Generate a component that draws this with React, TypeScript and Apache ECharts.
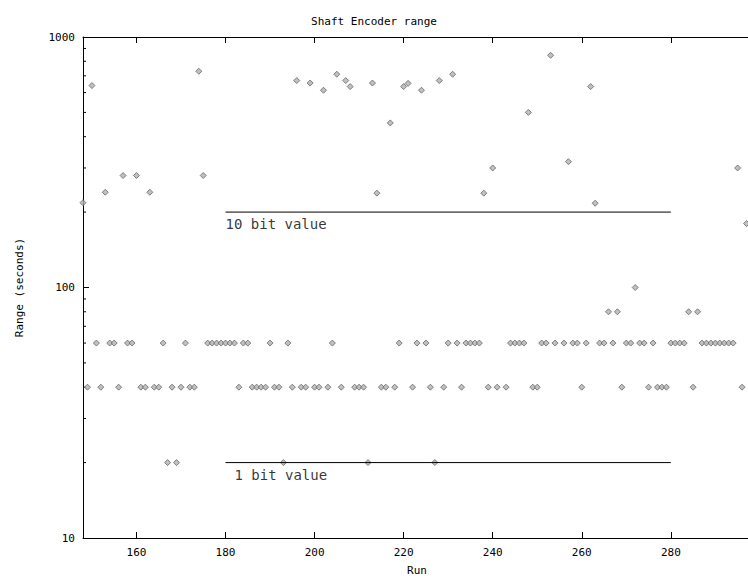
import React, { useEffect, useRef } from "react";
import * as echarts from "echarts";

// Run numbers and measured shaft encoder range (seconds)
const runs = [
  148, 149, 150, 151, 152, 153, 154, 155, 156, 157, 158, 159, 160, 161, 162, 163, 164, 165, 166, 167,
  168, 169, 170, 171, 172, 173, 174, 175, 176, 177, 178, 179, 180, 181, 182, 183, 184, 185, 186, 187,
  188, 189, 190, 191, 192, 193, 194, 195, 196, 197, 198, 199, 200, 201, 202, 203, 204, 205, 206, 207,
  208, 209, 210, 211, 212, 213, 214, 215, 216, 217, 218, 219, 220, 221, 222, 223, 224, 225, 226, 227,
  228, 229, 230, 231, 232, 233, 234, 235, 236, 237, 238, 239, 240, 241, 243, 244, 245, 246, 247, 248,
  249, 250, 251, 252, 253, 254, 256, 257, 258, 259, 260, 261, 262, 263, 264, 265, 266, 267, 268, 269,
  270, 271, 272, 273, 274, 275, 276, 277, 278, 279, 280, 281, 282, 283, 284, 285, 286, 287, 288, 289,
  290, 291, 292, 293, 294, 295, 296, 297,
];
const rangeSeconds = [
  218, 40, 640, 60, 40, 240, 60, 60, 40, 280, 60, 60, 280, 40, 40, 240, 40, 40, 60, 20,
  40, 20, 40, 60, 40, 40, 730, 280, 60, 60, 60, 60, 60, 60, 60, 40, 60, 60, 40, 40,
  40, 40, 60, 40, 40, 20, 60, 40, 670, 40, 40, 655, 40, 40, 613, 40, 60, 710, 40, 670,
  634, 40, 40, 40, 20, 655, 238, 40, 40, 454, 40, 60, 634, 653, 40, 60, 613, 60, 40, 20,
  670, 40, 60, 710, 60, 40, 60, 60, 60, 60, 238, 40, 300, 40, 40, 60, 60, 60, 60, 500,
  40, 40, 60, 60, 845, 60, 60, 318, 60, 60, 40, 60, 634, 217, 60, 60, 80, 60, 80, 40,
  60, 60, 100, 60, 60, 40, 60, 40, 40, 40, 60, 60, 60, 60, 80, 40, 80, 60, 60, 60,
  60, 60, 60, 60, 60, 300, 40, 180,
];

// Reference lines
const refLineRuns = [180, 280];
const tenBitValue = 200;
const oneBitValue = 20;
const refLabels = ["10 bit value", "1 bit value"];
const refLabelRuns = [180, 182];

// Axis settings
const xMin = 148;
const xMax = 298;
const xTickValues = [160, 180, 200, 220, 240, 260, 280];
const yMin = 10;
const yMax = 1000;
const yMinorTicks = [20, 30, 40, 50, 60, 70, 80, 90, 200, 300, 400, 500, 600, 700, 800, 900];

const FONT = "'DejaVu Sans Mono', 'Liberation Mono', monospace";

export default function App() {
  const ref = useRef<HTMLDivElement>(null);

  useEffect(() => {
    if (!ref.current) return;
    const chart = echarts.init(ref.current, null, { renderer: "svg" });
    const points = runs.map((r, i) => [r, rangeSeconds[i]]);

    const option: any = {
      animation: false,
      backgroundColor: "#ffffff",
      title: {
        text: "Shaft Encoder range",
        left: "center",
        top: 11,
        textStyle: { fontFamily: FONT, fontSize: 11, fontWeight: "normal", color: "#000" },
      },
      grid: {
        left: 83,
        top: 37,
        width: 668,
        height: 501,
        containLabel: false,
        outerBoundsMode: "none",
      },
      xAxis: [
        {
          type: "value",
          min: xMin,
          max: xMax,
          position: "bottom",
          name: "Run",
          nameLocation: "middle",
          nameGap: 27,
          nameTextStyle: { fontFamily: FONT, fontSize: 11, color: "#000" },
          axisLine: { show: true, onZero: false, lineStyle: { color: "#000", width: 1 } },
          axisTick: { show: true, inside: true, length: 6, customValues: xTickValues, lineStyle: { color: "#000" } },
          axisLabel: {
            show: true,
            customValues: xTickValues,
            margin: 9,
            fontFamily: FONT,
            fontSize: 11,
            color: "#000",
          },
          splitLine: { show: false },
        },
        {
          type: "value",
          min: xMin,
          max: xMax,
          position: "top",
          axisLine: { show: true, onZero: false, lineStyle: { color: "#000", width: 1 } },
          axisTick: { show: true, inside: true, length: 6, customValues: xTickValues, lineStyle: { color: "#000" } },
          axisLabel: { show: false },
          splitLine: { show: false },
        },
      ],
      yAxis: {
        type: "log",
        logBase: 10,
        min: yMin,
        max: yMax,
        name: "Range (seconds)",
        nameLocation: "middle",
        nameGap: 58,
        nameTextStyle: { fontFamily: FONT, fontSize: 11, color: "#000" },
        axisLine: { show: true, onZero: false, lineStyle: { color: "#000", width: 1 } },
        axisTick: { show: true, inside: true, length: 6, lineStyle: { color: "#000" } },
        axisLabel: {
          fontFamily: FONT,
          fontSize: 11,
          color: "#000",
          margin: 8,
          formatter: (v: number) => String(Math.round(v)),
        },
        splitLine: { show: false },
      },
      series: [
        {
          type: "custom",
          name: "minorTicks",
          silent: true,
          clip: false,
          xAxisIndex: 0,
          encode: { x: 0, y: 1 },
          data: yMinorTicks.map((v) => [xMin, v]),
          renderItem: (params: any, api: any) => {
            const p = api.coord([api.value(0), api.value(1)]);
            return {
              type: "line",
              shape: { x1: p[0], y1: p[1], x2: p[0] + 3, y2: p[1] },
              style: { stroke: "#000", lineWidth: 1 },
            };
          },
        },
        {
          type: "line",
          name: "10 bit",
          xAxisIndex: 0,
          showSymbol: false,
          symbol: "none",
          lineStyle: { color: "#000", width: 1 },
          data: refLineRuns.map((r) => [r, tenBitValue]),
          silent: true,
        },
        {
          type: "line",
          name: "1 bit",
          xAxisIndex: 0,
          showSymbol: false,
          symbol: "none",
          lineStyle: { color: "#000", width: 1 },
          data: refLineRuns.map((r) => [r, oneBitValue]),
          silent: true,
        },
        {
          type: "scatter",
          name: "labels",
          xAxisIndex: 0,
          symbolSize: 0,
          silent: true,
          data: [
            { value: [refLabelRuns[0], tenBitValue], name: refLabels[0] },
            { value: [refLabelRuns[1], oneBitValue], name: refLabels[1] },
          ],
          label: {
            show: true,
            position: "bottom",
            align: "left",
            distance: 5,
            formatter: (p: any) => p.name,
            fontFamily: FONT,
            fontSize: 14,
            color: "#000",
          },
        },
        {
          type: "scatter",
          name: "range",
          xAxisIndex: 0,
          symbol: "diamond",
          symbolSize: 6,
          clip: true,
          itemStyle: { color: "#b0b0b0", borderColor: "#666666", borderWidth: 1 },
          data: points,
        },
      ],
    };

    chart.setOption(option);
    return () => chart.dispose();
  }, []);

  return (
    <div
      ref={ref}
      style={{ position: "fixed", left: 0, top: 0, width: 748, height: 579, background: "#fff" }}
    />
  );
}
